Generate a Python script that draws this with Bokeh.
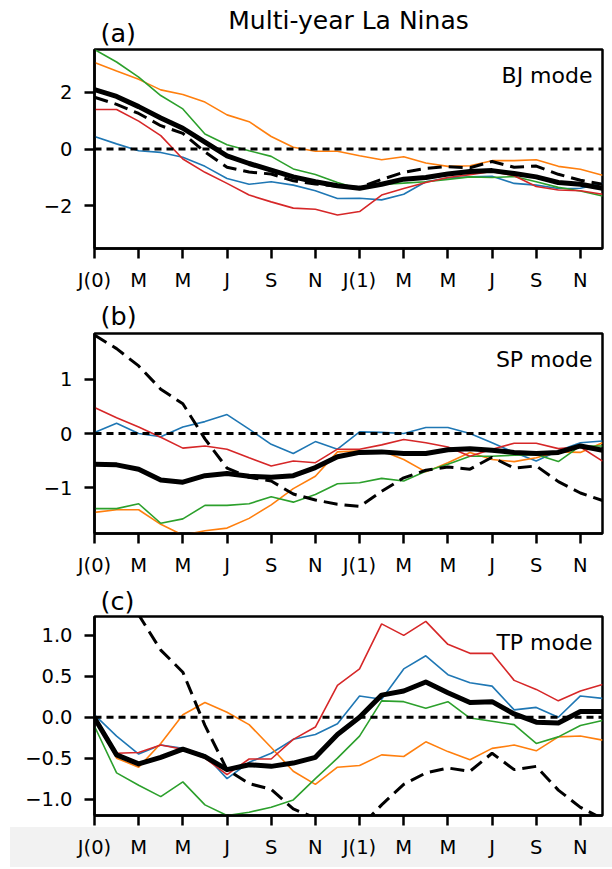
from bokeh.plotting import figure
from bokeh.layouts import column
from bokeh.models import Span, Label, FixedTicker
from bokeh.embed import file_html
from bokeh.resources import INLINE

# ---------------------------------------------------------------- data
months = list(range(24))                       # Jan(0) .. Dec(1)
month_ticks = list(range(0, 24, 2))
month_labels = ["J(0)", "M", "M", "J", "S", "N", "J(1)", "M", "M", "J", "S", "N"]

# Nino-type index (dashed), same in every panel
nino_index = [1.82, 1.57, 1.25, 0.82, 0.55, -0.10, -0.64, -0.81, -0.88, -1.12, -1.23, -1.31,
              -1.35, -1.07, -0.82, -0.68, -0.62, -0.66, -0.44, -0.64, -0.60, -0.89, -1.10, -1.24]

# (a) BJ mode
bj_blue = [0.44, 0.18, -0.06, -0.12, -0.29, -0.61, -1.04, -1.24, -1.15, -1.27, -1.47, -1.74,
           -1.73, -1.79, -1.59, -1.15, -1.02, -0.98, -0.96, -1.21, -1.27, -1.39, -1.38, -1.21]
bj_orange = [3.04, 2.74, 2.45, 2.08, 1.92, 1.65, 1.20, 0.96, 0.44, 0.06, -0.08, -0.08,
             -0.24, -0.38, -0.27, -0.49, -0.61, -0.59, -0.41, -0.41, -0.38, -0.61, -0.71, -0.92]
bj_green = [3.50, 3.06, 2.53, 1.88, 1.41, 0.53, 0.15, -0.06, -0.26, -0.70, -0.90, -1.18,
            -1.41, -1.25, -1.20, -1.15, -1.07, -0.98, -1.00, -0.97, -1.15, -1.35, -1.48, -1.65]
bj_red = [1.39, 1.39, 0.98, 0.47, -0.35, -0.82, -1.21, -1.62, -1.86, -2.08, -2.12, -2.32,
          -2.20, -1.62, -1.39, -1.18, -1.00, -0.90, -0.79, -0.94, -1.32, -1.44, -1.47, -1.59]
bj_mean = [2.09, 1.85, 1.49, 1.09, 0.73, 0.24, -0.24, -0.51, -0.74, -0.98, -1.15, -1.29,
           -1.38, -1.24, -1.06, -1.00, -0.88, -0.79, -0.76, -0.86, -0.98, -1.18, -1.24, -1.38]

# (b) SP mode
sp_blue = [0.02, 0.19, 0.00, -0.06, 0.12, 0.22, 0.35, 0.08, -0.20, -0.37, -0.15, -0.29,
           0.03, 0.02, 0.00, 0.11, 0.11, 0.00, -0.17, -0.35, -0.51, -0.32, -0.17, -0.14]
sp_orange = [-1.46, -1.41, -1.41, -1.68, -1.88, -1.80, -1.75, -1.57, -1.32, -1.02, -0.79, -0.34,
             -0.32, -0.32, -0.48, -0.71, -0.54, -0.35, -0.48, -0.52, -0.45, -0.34, -0.35, -0.17]
sp_green = [-1.39, -1.39, -1.30, -1.66, -1.58, -1.33, -1.33, -1.30, -1.17, -1.27, -1.13, -0.93,
            -0.91, -0.83, -0.88, -0.70, -0.57, -0.42, -0.42, -0.40, -0.39, -0.52, -0.23, -0.23]
sp_red = [0.48, 0.29, 0.12, -0.07, -0.27, -0.23, -0.29, -0.45, -0.60, -0.51, -0.54, -0.29,
          -0.29, -0.21, -0.11, -0.17, -0.25, -0.42, -0.29, -0.18, -0.18, -0.28, -0.25, -0.51]
sp_mean = [-0.57, -0.58, -0.66, -0.86, -0.90, -0.78, -0.74, -0.79, -0.81, -0.78, -0.63, -0.43,
           -0.35, -0.34, -0.37, -0.37, -0.30, -0.28, -0.31, -0.35, -0.37, -0.35, -0.23, -0.31]

# (c) TP mode
tp_blue = [0.03, -0.23, -0.45, -0.34, -0.38, -0.46, -0.75, -0.55, -0.44, -0.27, -0.21, -0.08,
           0.26, 0.22, 0.59, 0.75, 0.52, 0.42, 0.38, 0.09, 0.12, 0.00, 0.26, 0.23]
tp_orange = [0.00, -0.50, -0.61, -0.32, 0.03, 0.18, 0.06, -0.09, -0.37, -0.66, -0.82, -0.61,
             -0.59, -0.46, -0.48, -0.30, -0.42, -0.52, -0.38, -0.34, -0.41, -0.24, -0.23, -0.28]
tp_green = [-0.11, -0.68, -0.83, -0.97, -0.79, -1.07, -1.20, -1.16, -1.10, -1.01, -0.75, -0.50,
            -0.23, 0.20, 0.19, 0.11, 0.19, -0.01, -0.05, -0.09, -0.32, -0.24, -0.10, -0.04]
tp_red = [0.00, -0.44, -0.43, -0.34, -0.39, -0.50, -0.70, -0.51, -0.51, -0.27, -0.12, 0.39,
          0.59, 1.14, 1.00, 1.17, 0.89, 0.78, 0.78, 0.45, 0.34, 0.20, 0.32, 0.40]
tp_mean = [-0.01, -0.46, -0.57, -0.49, -0.39, -0.48, -0.64, -0.58, -0.60, -0.56, -0.49, -0.21,
           0.00, 0.27, 0.32, 0.43, 0.30, 0.18, 0.19, 0.04, -0.06, -0.07, 0.07, 0.07]

# ---------------------------------------------------------------- styling
FONT = "DejaVu Sans"
COLORS = ["#1f77b4", "#ff7f0e", "#2ca02c", "#d62728"]
PAGE_W = 612
LEFT, RIGHT = 94, 10
FRAME_W = PAGE_W - LEFT - RIGHT
X0, X1 = 0, 23


def header(height, tag, tag_y, title=None, title_y=None):
    """Strip above a panel carrying the panel letter (and the main title)."""
    h = figure(width=PAGE_W, height=height, x_range=(X0, X1), y_range=(0, 1),
               output_backend="svg", toolbar_location=None, title=None,
               x_axis_location=None, y_axis_location=None,
               min_border_left=LEFT, min_border_right=RIGHT,
               min_border_top=0, min_border_bottom=0)
    h.xgrid.visible = False
    h.ygrid.visible = False
    h.outline_line_color = None
    h.background_fill_color = "white"
    h.border_fill_color = "white"
    h.add_layout(Label(x=6, y=tag_y, x_units="screen", y_units="screen", text=tag,
                       text_font=FONT, text_font_size="25.5px",
                       text_align="left", text_baseline="middle", text_color="black"))
    if title:
        h.add_layout(Label(x=FRAME_W / 2, y=title_y, x_units="screen", y_units="screen",
                           text=title, text_font=FONT, text_font_size="25px",
                           text_align="center", text_baseline="middle", text_color="black"))
    return h


def panel(mode, members, mean, ylim, yticks, ylabels, height, bottom):
    y0, y1 = ylim
    top = 2
    frame_h = height - top - bottom
    p = figure(width=PAGE_W, height=height, x_range=(X0, X1), y_range=(y0, y1),
               output_backend="svg", toolbar_location=None, title=None,
               min_border_left=LEFT, min_border_right=RIGHT,
               min_border_top=top, min_border_bottom=bottom)
    p.xgrid.visible = False
    p.ygrid.visible = False
    p.outline_line_color = "black"
    p.outline_line_width = 2.5
    p.background_fill_color = "white"
    p.border_fill_color = "white"

    for ax in (p.xaxis[0], p.yaxis[0]):
        ax.axis_line_width = 2.5
        ax.axis_line_color = "black"
        ax.major_tick_line_width = 2.5
        ax.major_tick_line_color = "black"
        ax.major_tick_in = 0
        ax.major_tick_out = 10
        ax.minor_tick_line_color = None
        ax.major_label_text_font = FONT
        ax.major_label_text_font_size = "19.5px"
        ax.major_label_text_color = "black"

    p.xaxis.ticker = FixedTicker(ticks=month_ticks)
    p.xaxis.major_label_overrides = {t: l for t, l in zip(month_ticks, month_labels)}
    p.xaxis.major_label_standoff = 10
    p.yaxis.ticker = FixedTicker(ticks=yticks)
    p.yaxis.major_label_overrides = {t: l for t, l in zip(yticks, ylabels)}
    p.yaxis.major_label_standoff = 12

    p.add_layout(Span(location=0, dimension="width", line_color="black",
                      line_width=3, line_dash="7 5"))

    for series, color in zip(members, COLORS):
        p.line(months, series, line_color=color, line_width=1.6)
    p.line(months, mean, line_color="black", line_width=5, line_join="round")
    p.line(months, nino_index, line_color="black", line_width=3, line_dash="14 7")

    # mode name in the upper right corner of the frame
    p.add_layout(Label(x=FRAME_W - 10, y=frame_h - 26, x_units="screen", y_units="screen",
                       text=mode, text_font=FONT, text_font_size="22px",
                       text_align="right", text_baseline="middle", text_color="black"))
    return p


ha = header(47, "(a)", 15, title="Multi-year La Ninas", title_y=27)
pa = panel("BJ mode", [bj_blue, bj_orange, bj_green, bj_red], bj_mean,
           (-3.5, 3.5), [-2, 0, 2], ["\u22122", "0", "2"], height=247, bottom=46)

hb = header(37, "(b)", 16)
pb = panel("SP mode", [sp_blue, sp_orange, sp_green, sp_red], sp_mean,
           (-1.85, 1.85), [-1, 0, 1], ["\u22121", "0", "1"], height=248, bottom=46)

hc = header(35, "(c)", 14)
pc = panel("TP mode", [tp_blue, tp_orange, tp_green, tp_red], tp_mean,
           (-1.2, 1.23), [-1.0, -0.5, 0.0, 0.5, 1.0],
           ["\u22121.0", "\u22120.5", "0.0", "0.5", "1.0"], height=255, bottom=54)

# pale band behind the bottom month labels, shown through a transparent border
pc.border_fill_alpha = 0
pc.styles = {"background": "linear-gradient(to right, #ffffff 10px, rgba(255,255,255,0) 10px), "
                           "linear-gradient(to bottom, #ffffff 213px, #f2f2f2 213px, "
                           "#f2f2f2 253px, #ffffff 253px)"}

layout = column(ha, pa, hb, pb, hc, pc, spacing=0)
open("out.html", "w").write(file_html(layout, INLINE))
